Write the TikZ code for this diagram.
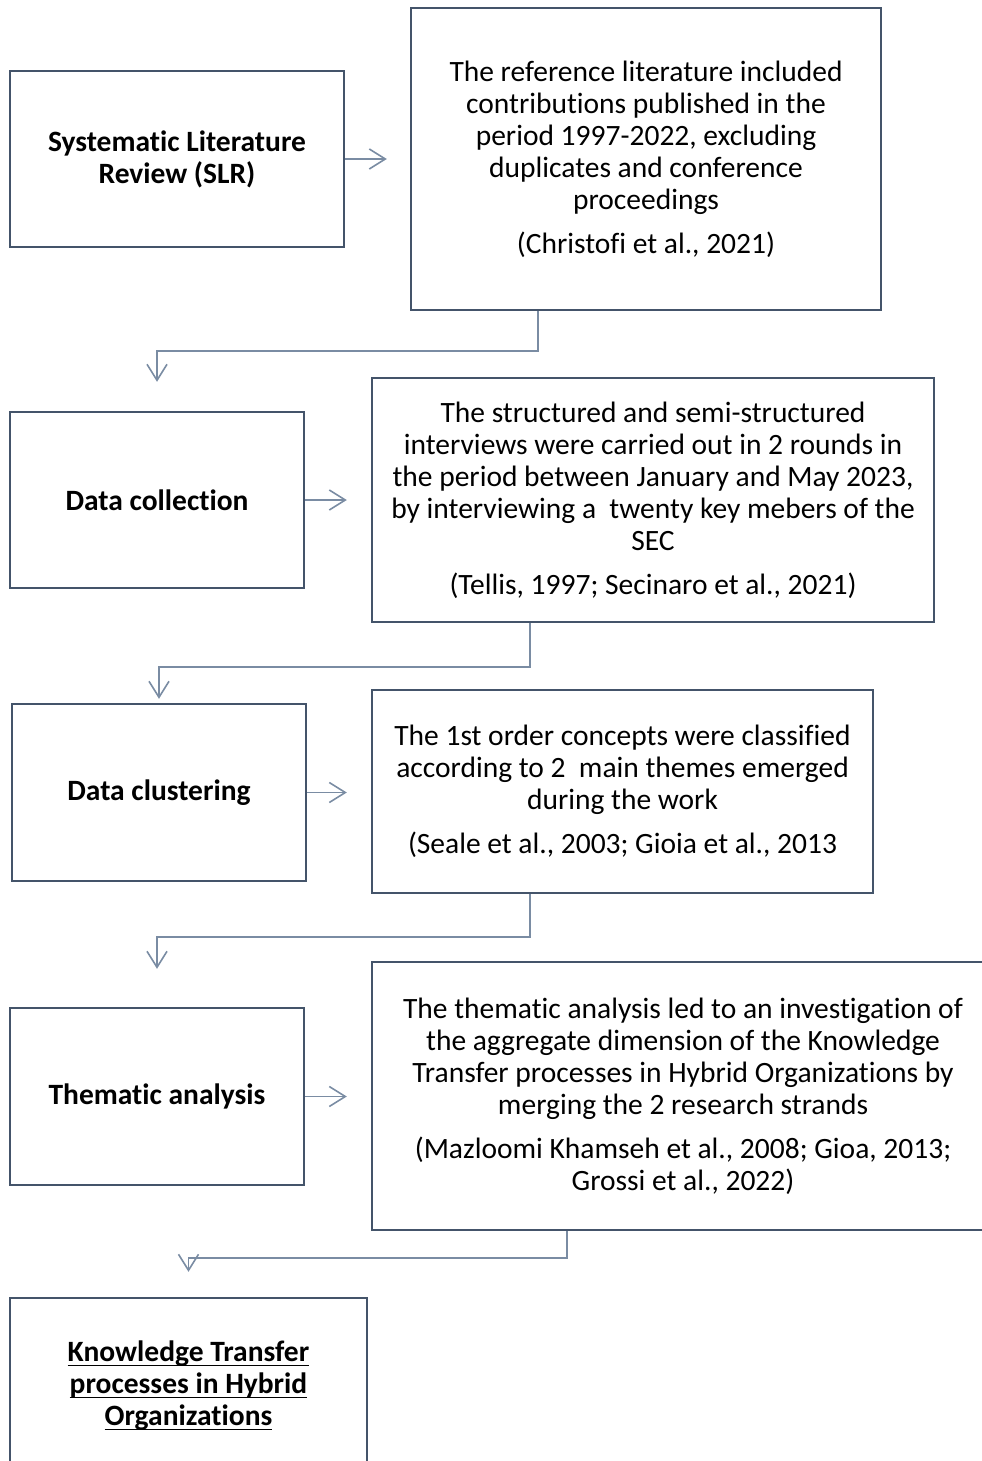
\documentclass[tikz,border=0pt]{standalone}
\usepackage{fontspec}
\setmainfont{Carlito}[Ligatures=NoCommon]
\usetikzlibrary{arrows.meta,positioning}
\definecolor{keret}{RGB}{68,84,106}
\definecolor{vonal}{RGB}{122,140,163}
\newcommand{\alahuz}[1]{\leavevmode\setbox0=\hbox{#1}\rlap{\rule[-4.5pt]{\wd0}{1.4pt}}\box0}
\tikzset{
  fo/.style={draw=keret,line width=2.4pt,minimum width=294pt,minimum height=176pt,
    inner sep=0pt,align=center,font=\fontsize{29.5}{32}\selectfont\bfseries},
  szov/.style={draw=keret,line width=2.4pt,inner sep=0pt,align=center,
    font=\fontsize{29.5}{32}\selectfont},
  nyil/.style={vonal,line width=1.6pt,-{Straight Barb[length=16pt,width=20pt]}},
}

\begin{document}
\begin{tikzpicture}[x=1pt,y=-1pt]
  \useasboundingbox (0,0) rectangle (982,1461);
  \clip (0,0) rectangle (982,1461);
  % left column
  \node[fo,minimum width=334pt] (slr) at (177,159) {Systematic Literature\\Review (SLR)};
  \node[fo] (gyujt) at (157,500) {Data collection};
  \node[fo,minimum height=177pt] (klaszt) at (159,792.5) {Data clustering};
  \node[fo,minimum height=177pt] (tema) at (157,1096.5) {Thematic analysis};
  \node[fo,minimum width=357pt] (kt) at (188.5,1386)
    {\alahuz{Knowledge Transfer}\\\alahuz{processes in Hybrid}\\\alahuz{Organizations}};
  % right column
  \node[szov,minimum width=470pt,minimum height=302pt] (irod) at (646,159)
    {The reference literature included\\contributions published in the\\period 1997-2022, excluding\\
     duplicates and conference\\proceedings\\[12pt](Christofi et al., 2021)};
  \node[szov,minimum width=562pt,minimum height=244pt] (interj) at (653,500)
    {The structured and semi-structured\\interviews were carried out in 2 rounds in\\
     the period between January and May 2023,\\by interviewing a~ twenty key mebers of the\\
     SEC\\[12pt](Tellis, 1997; Secinaro et al., 2021)};
  \node[szov,minimum width=501pt,minimum height=203pt] (fogalom) at (622.5,791.5)
    {The 1st order concepts were classified\\according to 2~ main themes emerged\\
     during the work\\[12pt](Seale et al., 2003; Gioia et al., 2013};
  \node[szov,minimum width=622pt,minimum height=268pt] (elemz) at (683,1096)
    {The thematic analysis led to an investigation of\\the aggregate dimension of the Knowledge\\
     Transfer processes in Hybrid Organizations by\\merging the 2 research strands\\[12pt]
     (Mazloomi Khamseh et al., 2008; Gioa, 2013;\\Grossi et al., 2022)};
  % arrows to the right
  \draw[nyil,shorten >=23pt] (slr.east) -- (slr.east -| irod.west);
  \draw[nyil,shorten >=24pt] (gyujt.east) -- (gyujt.east -| interj.west);
  \draw[nyil,shorten >=24pt] (klaszt.east) -- (klaszt.east -| fogalom.west);
  \draw[nyil,shorten >=24pt] (tema.east) -- (tema.east -| elemz.west);
  % down to the next step
  \draw[nyil,shorten >=29pt] ([xshift=-108pt]irod.south) -- ++(0,40) -| (gyujt.north);
  \draw[nyil,shorten >=4pt] ([xshift=-123pt]interj.south) -- ++(0,44) -| (klaszt.north);
  \draw[nyil,shorten >=38pt] ([xshift=-92.5pt]fogalom.south) -- ++(0,43) -| (tema.north);
  \draw[nyil,shorten >=25pt] ([xshift=-116pt]elemz.south) -- ++(0,27) -| (kt.north);
\end{tikzpicture}
\end{document}
